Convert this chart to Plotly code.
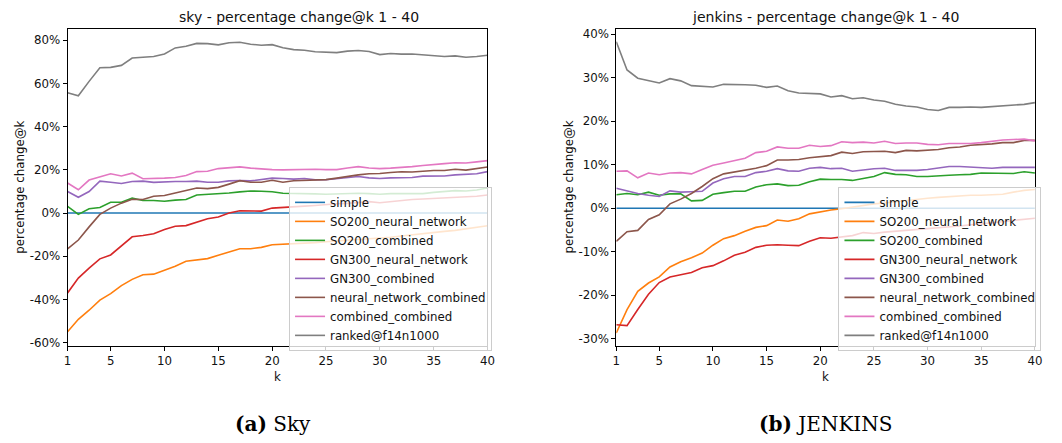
import plotly.graph_objects as go

W, H = 1062, 443

k = list(range(1, 41))

series_names = ["simple", "SO200_neural_network", "SO200_combined", "GN300_neural_network",
                "GN300_combined", "neural_network_combined", "combined_combined", "ranked@f14n1000"]
colors = ["#1f77b4", "#ff7f0e", "#2ca02c", "#d62728", "#9467bd", "#8c564b", "#e377c2", "#7f7f7f"]

# ---- sky ----
sky_simple = [0, 0, 0, 0, 0, 0, 0, 0, 0, 0, 0, 0, 0, 0, 0, 0, 0, 0, 0, 0,
              0, 0, 0, 0, 0, 0, 0, 0, 0, 0, 0, 0, 0, 0, 0, 0, 0, 0, 0, 0]
sky_so200_nn = [-55.0, -49.2, -45.0, -40.3, -37.3, -33.6, -30.7, -28.6, -28.3, -26.4,
                -24.6, -22.3, -21.7, -21.1, -19.5, -18.0, -16.5, -16.5, -15.9, -14.7,
                -14.5, -14.3, -14.0, -13.7, -13.3, -13.0, -12.6, -12.2, -11.9, -11.6,
                -11.2, -10.6, -10.0, -9.5, -9.0, -8.5, -8.0, -7.2, -6.6, -5.9]
sky_so200_comb = [3.1, -0.6, 2.0, 2.6, 5.0, 5.0, 6.9, 5.8, 5.8, 5.5,
                  6.0, 6.3, 8.4, 8.6, 9.0, 9.3, 9.8, 10.2, 10.1, 9.9,
                  9.2, 9.2, 9.0, 8.9, 8.7, 8.9, 9.0, 9.2, 9.0, 8.7,
                  9.0, 9.0, 8.9, 9.0, 9.6, 10.1, 10.4, 10.2, 10.7, 11.6]
sky_gn300_nn = [-37.0, -30.1, -25.5, -21.2, -19.4, -15.3, -11.0, -10.4, -9.6, -7.6,
                -6.1, -5.8, -4.1, -2.6, -1.8, 0.0, 1.1, 1.1, 0.9, 2.3,
                2.5, 2.8, 3.2, 3.5, 4.0, 4.3, 4.5, 5.0, 5.3, 4.8,
                5.4, 6.0, 6.3, 6.5, 6.7, 7.0, 7.3, 7.5, 7.8, 8.4]
sky_gn300_comb = [10.0, 7.3, 10.0, 14.8, 14.3, 13.7, 14.6, 14.8, 14.2, 14.5,
                  14.6, 14.6, 14.8, 14.3, 14.3, 14.9, 15.1, 14.9, 15.4, 16.2,
                  16.0, 15.7, 16.0, 15.4, 15.4, 16.0, 16.3, 16.9, 16.3, 16.0,
                  16.3, 16.3, 16.5, 17.1, 17.2, 17.2, 17.7, 18.0, 18.2, 19.2]
sky_nn_comb = [-16.6, -12.5, -6.4, -0.6, 2.3, 4.6, 6.4, 6.3, 7.8, 8.1,
               9.3, 10.4, 11.6, 11.3, 11.9, 13.4, 15.0, 14.3, 14.3, 15.2,
               14.3, 15.0, 15.2, 15.4, 15.5, 16.2, 17.0, 17.7, 18.2, 18.3,
               18.8, 19.1, 19.0, 19.4, 19.7, 19.7, 20.3, 19.9, 20.6, 21.3]
sky_comb_comb = [13.9, 10.8, 15.3, 16.9, 18.2, 17.2, 18.5, 15.9, 15.9, 16.2,
                 16.5, 17.4, 19.2, 19.4, 20.6, 21.0, 21.4, 20.8, 20.3, 20.1,
                 20.0, 20.1, 20.3, 20.3, 20.1, 20.1, 20.9, 21.5, 20.9, 20.6,
                 20.8, 21.0, 21.5, 22.0, 22.6, 22.9, 23.3, 23.2, 23.7, 24.3]
sky_ranked = [55.7, 54.3, 61.0, 67.3, 67.5, 68.4, 71.8, 72.2, 72.5, 73.7,
              76.5, 77.3, 78.6, 78.5, 77.9, 78.9, 79.1, 78.2, 77.7, 78.0,
              76.6, 75.7, 75.4, 74.7, 74.5, 74.3, 75.0, 75.3, 74.8, 73.4,
              73.9, 73.6, 73.7, 73.4, 73.0, 72.5, 72.8, 72.2, 72.5, 73.1]

# ---- jenkins ----
jen_simple = [0, 0, 0, 0, 0, 0, 0, 0, 0, 0, 0, 0, 0, 0, 0, 0, 0, 0, 0, 0,
              0, 0, 0, 0, 0, 0, 0, 0, 0, 0, 0, 0, 0, 0, 0, 0, 0, 0, 0, 0]
jen_so200_nn = [-28.7, -23.3, -19.1, -17.2, -15.8, -13.5, -12.3, -11.4, -10.3, -8.5,
                -7.0, -6.3, -5.3, -4.4, -4.0, -2.7, -3.0, -2.4, -1.3, -0.8,
                -0.4, -0.1, 0.3, 0.6, 1.0, 1.2, 1.5, 1.8, 2.0, 2.3,
                2.5, 2.7, 2.9, 3.0, 3.0, 3.1, 3.2, 3.7, 4.1, 4.3]
jen_so200_comb = [3.1, 3.4, 3.1, 3.7, 3.0, 3.3, 3.3, 1.7, 1.8, 3.2,
                  3.6, 3.9, 3.9, 4.9, 5.4, 5.6, 5.2, 5.3, 6.1, 6.7,
                  6.6, 6.6, 6.4, 6.9, 7.3, 8.2, 7.8, 7.7, 7.3, 7.3,
                  7.5, 7.6, 7.7, 7.8, 8.1, 8.1, 8.1, 8.0, 8.4, 8.1]
jen_gn300_nn = [-26.8, -27.0, -23.3, -19.8, -17.1, -15.8, -15.3, -14.8, -13.7, -13.2,
                -12.1, -10.8, -10.1, -9.0, -8.5, -8.4, -8.5, -8.6, -7.6, -6.8,
                -6.9, -6.6, -6.3, -5.6, -5.8, -5.5, -5.3, -5.1, -4.9, -4.8,
                -4.6, -4.4, -4.1, -3.8, -3.6, -3.4, -3.1, -2.8, -2.5, -2.3]
jen_gn300_comb = [4.6, 4.0, 3.4, 3.0, 2.7, 4.0, 3.7, 3.8, 3.9, 5.8,
                  6.8, 7.3, 7.3, 8.2, 8.5, 9.1, 8.6, 8.5, 9.2, 9.4,
                  9.1, 9.2, 8.5, 8.8, 9.1, 9.2, 8.7, 8.7, 8.7, 8.9,
                  9.2, 9.6, 9.6, 9.5, 9.4, 9.2, 9.4, 9.4, 9.5, 9.4]
jen_nn_comb = [-7.6, -5.4, -5.1, -2.6, -1.5, 1.0, 2.1, 3.4, 5.0, 6.8,
               7.9, 8.3, 8.8, 9.2, 9.8, 11.1, 11.1, 11.2, 11.6, 11.8,
               12.1, 12.9, 12.6, 13.0, 13.1, 13.1, 12.8, 13.3, 13.2, 13.4,
               13.5, 13.9, 14.1, 14.5, 14.6, 14.8, 15.1, 15.1, 15.6, 15.6]
jen_comb_comb = [8.5, 8.6, 7.0, 8.1, 7.7, 8.1, 8.2, 7.9, 8.9, 9.9,
                 10.4, 11.0, 11.5, 12.8, 13.1, 14.1, 13.8, 13.8, 14.5, 14.2,
                 14.4, 15.3, 15.1, 15.2, 15.0, 15.4, 14.9, 15.0, 15.0, 14.7,
                 14.6, 14.9, 14.9, 14.9, 15.1, 15.4, 15.7, 15.8, 15.9, 15.5]
jen_ranked = [38.3, 31.8, 29.9, 29.4, 28.8, 29.8, 29.3, 28.2, 28.1, 27.9,
              28.5, 28.5, 28.4, 28.3, 27.8, 28.1, 27.0, 26.5, 26.4, 26.3,
              25.6, 25.9, 25.2, 25.4, 24.9, 24.6, 23.9, 23.5, 23.3, 22.7,
              22.5, 23.2, 23.2, 23.3, 23.2, 23.4, 23.6, 23.8, 23.9, 24.3]

sky_series = [sky_simple, sky_so200_nn, sky_so200_comb, sky_gn300_nn,
              sky_gn300_comb, sky_nn_comb, sky_comb_comb, sky_ranked]
jen_series = [jen_simple, jen_so200_nn, jen_so200_comb, jen_gn300_nn,
              jen_gn300_comb, jen_nn_comb, jen_comb_comb, jen_ranked]

sky_yticks = [-60, -40, -20, 0, 20, 40, 60, 80]
jen_yticks = [-30, -20, -10, 0, 10, 20, 30, 40]
sky_yticktext = ["-60%", "-40%", "-20%", "0%", "20%", "40%", "60%", "80%"]
jen_yticktext = ["-30%", "-20%", "-10%", "0%", "10%", "20%", "30%", "40%"]
xticks = [1, 5, 10, 15, 20, 25, 30, 35, 40]

FONT = "DejaVu Sans"
FS = 11.8

def px(x):
    return x / W

def py(y):
    return 1 - y / H

fig = go.Figure()

for name, col, vals in zip(series_names, colors, sky_series):
    fig.add_trace(go.Scatter(x=k, y=vals, mode="lines", name=name,
                             line=dict(color=col, width=1.6),
                             xaxis="x", yaxis="y", legend="legend"))
for name, col, vals in zip(series_names, colors, jen_series):
    fig.add_trace(go.Scatter(x=k, y=vals, mode="lines", name=name,
                             line=dict(color=col, width=1.6),
                             xaxis="x2", yaxis="y2", legend="legend2"))

top, bottom = 28, 349
axis_common = dict(showline=True, linecolor="black", linewidth=1, mirror=True,
                   ticks="outside", ticklen=4, tickwidth=1, tickcolor="black",
                   showgrid=False, zeroline=False,
                   tickfont=dict(family=FONT, size=FS, color="#111"))

legend_common = dict(bgcolor="rgba(255,255,255,0.8)", bordercolor="#cccccc", borderwidth=1,
                     font=dict(family=FONT, size=FS, color="#111"),
                     xanchor="left", yanchor="top", tracegroupgap=0, itemwidth=30)

fig.update_layout(
    width=W, height=H,
    margin=dict(l=0, r=0, t=0, b=0),
    paper_bgcolor="white", plot_bgcolor="white",
    showlegend=True,
    xaxis=dict(domain=[px(64.3), px(489)], range=[1, 40], tickvals=xticks, anchor="y", **axis_common),
    yaxis=dict(domain=[py(bottom), py(top)], range=[-61.6, 85.4], tickvals=sky_yticks,
               ticktext=sky_yticktext, anchor="x", **axis_common),
    xaxis2=dict(domain=[px(619.3), px(1042.7)], range=[1, 40], tickvals=xticks, anchor="y2", **axis_common),
    yaxis2=dict(domain=[py(bottom), py(top)], range=[-31.7, 41.3], tickvals=jen_yticks,
                ticktext=jen_yticktext, anchor="x2", **axis_common),
    legend=dict(x=px(288.3), y=py(188), **legend_common),
    legend2=dict(x=px(844), y=py(188), **legend_common),
)

annotations = [
    dict(text="sky - percentage change@k 1 - 40", x=px(175), y=py(16), xanchor="left", font=dict(size=14)),
    dict(text="jenkins - percentage change@k 1 - 40", x=px(831), y=py(16), font=dict(size=14)),
    dict(text="percentage change@k", x=px(16.5), y=py(188.5), textangle=-90, font=dict(size=FS)),
    dict(text="percentage change@k", x=px(571.5), y=py(188.5), textangle=-90, font=dict(size=FS)),
    dict(text="k", x=px(276.7), y=py(380), font=dict(size=FS)),
    dict(text="k", x=px(831), y=py(380), font=dict(size=FS)),
    dict(text="<b>(a)</b> Sky", x=px(272.5), y=py(428),
         font=dict(family="DejaVu Serif", size=20, color="black")),
    dict(text="<b>(b)</b> JENKINS", x=px(830.5), y=py(428),
         font=dict(family="DejaVu Serif", size=20, color="black")),
]
for a in annotations:
    f = dict(family=FONT, color="#111")
    f.update(a.pop("font"))
    a.setdefault("xanchor", "center")
    fig.add_annotation(xref="paper", yref="paper", showarrow=False,
                       yanchor="middle", font=f, **a)

fig.write_html("out.html")
